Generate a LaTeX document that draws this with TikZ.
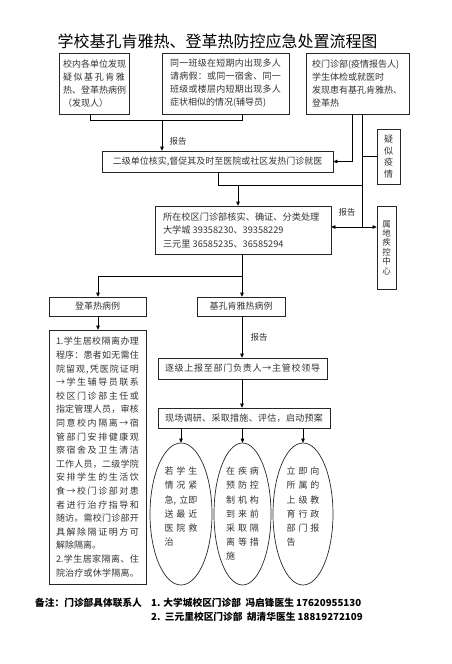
\documentclass[tikz,border=0pt]{standalone}
\usepackage{fontspec}
\setmainfont{Noto Sans CJK SC}
\usetikzlibrary{arrows.meta,shapes.geometric}
\def\jlend{JLEND@}
\newcommand\jl[2]{\leavevmode\hbox to #1{\jlA#2\jlend}}
\def\jlA#1{#1\futurelet\jlnext\jlB}
\def\jlB{\ifx\jlnext\jlend\expandafter\jlgobble\else\hfil\expandafter\jlA\fi}
\def\jlgobble#1{}
\begin{document}
\begin{tikzpicture}[x=1pt,y=-1pt,
  box/.style={draw=black!85, line width=0.7pt, inner sep=0pt, text=black!80, font=\fontsize{9}{13}\selectfont},
  arr/.style={-{Triangle[length=4pt,width=3.6pt]}, line width=0.7pt},
  ln/.style={line width=0.7pt},
  lbl/.style={inner sep=0pt, font=\fontsize{8.5}{10}\selectfont, text=black!80},
  ell/.style={draw=black!85, ellipse, inner sep=0pt, line width=0.7pt, text=black!80, font=\fontsize{9}{14.2}\selectfont},
  foot/.style={anchor=west, inner sep=0pt, font=\bfseries\fontsize{9.7}{11}\selectfont}]
\useasboundingbox (0,0) rectangle (451,664);
\node[inner sep=0pt,font=\fontsize{16}{18}\selectfont] (title) at (217.5,41) {学校基孔肯雅热、登革热防控应急处置流程图};

\node[box, minimum width=70pt, minimum height=61pt] (b1) at (94,83.5)
 {\parbox{62pt}{\jl{62pt}{校内各单位发现}\\\jl{62pt}{疑似基孔肯雅}\\\jl{62pt}{热、登革热病例}\\（发现人）}};
\node[box, minimum width=127pt, minimum height=61pt] (b2) at (225.5,83.5)
 {\parbox{111pt}{\jl{111pt}{同一班级在短期内出现多人}\\\jl{111pt}{请病假：或同一宿舍、同一}\\\jl{111pt}{班级或楼层内短期出现多人}\\症状相似的情况(辅导员)}};
\node[box, minimum width=103pt, minimum height=61pt] (b3) at (357.5,83.5)
 {\parbox{91pt}{校门诊部(疫情报告人)\\学生体检或就医时\\发现患有基孔肯雅热、\\登革热}};

\node[box, minimum width=231pt, minimum height=21pt] (erji) at (217.5,161.5) {二级单位核实,督促其及时至医院或社区发热门诊就医};
\node[box, minimum width=23pt, minimum height=55pt, font=\fontsize{9}{11.7}\selectfont, align=center] (yisi) at (388.5,156.5) {疑\\似\\疫\\情};

\node[box, minimum width=176pt, minimum height=48pt, font=\fontsize{9.2}{13.5}\selectfont] (suozai) at (243,230)
 {\parbox{160pt}{所在校区门诊部核实、确证、分类处理\\大学城 39358230、39358229\\三元里 36585235、36585294}};
\node[box, minimum width=19pt, minimum height=83pt, font=\fontsize{8.5}{9.4}\selectfont, align=center] (shudi) at (386.5,247.5) {属\\地\\疾\\控\\中\\心};

\node[box, minimum width=97pt, minimum height=19pt] (dengge) at (97.5,306.5) {登革热病例};
\node[box, minimum width=88pt, minimum height=19pt] (jikong) at (241,306.5) {基孔肯雅热病例};

\node[box, minimum width=97pt, minimum height=254pt, font=\fontsize{9}{13.6}\selectfont] (detail) at (97.5,457)
 {\parbox{83pt}{\jl{83pt}{{1.}学生居校隔离办理}\\\jl{83pt}{程序：患者如无需住}\\\jl{83pt}{院留观,凭医院证明}\\\jl{83pt}{→学生辅导员联系}\\\jl{83pt}{校区门诊部主任或}\\\jl{83pt}{指定管理人员，审核}\\\jl{83pt}{同意校内隔离→宿}\\\jl{83pt}{管部门安排健康观}\\\jl{83pt}{察宿舍及卫生清洁}\\\jl{83pt}{工作人员，二级学院}\\\jl{83pt}{安排学生的生活饮}\\\jl{83pt}{食→校门诊部对患}\\\jl{83pt}{者进行治疗指导和}\\\jl{83pt}{随访。需校门诊部开}\\\jl{83pt}{具解除隔证明方可}\\解除隔离。\\\jl{83pt}{{2.}学生居家隔离、住}\\\jl{83pt}{院治疗或休学隔离。}}};

\node[box, minimum width=169pt, minimum height=21pt] (zhuji) at (242.5,368.5) {\jl{155pt}{逐级上报至部门负责人→主管校领导}};
\node[box, minimum width=172pt, minimum height=20pt] (xianchang) at (244,418) {\jl{158pt}{现场调研、采取措施、评估，启动预案}};

\node[ell, minimum width=62pt, minimum height=142pt] (e1) at (181,514)
 {\parbox[c][94pt][t]{33pt}{\jl{33pt}{若学生}\\\jl{33pt}{情况紧}\\\jl{33pt}{{急,}{立即}}\\\jl{33pt}{送最近}\\\jl{33pt}{医院救}\\治}};
\node[ell, minimum width=57pt, minimum height=142pt] (e2) at (242.5,514)
 {\parbox[c][94pt][t]{33pt}{\jl{33pt}{在疾病}\\\jl{33pt}{预防控}\\\jl{33pt}{制机构}\\\jl{33pt}{到来前}\\\jl{33pt}{采取隔}\\\jl{33pt}{离等措}\\施}};
\node[ell, minimum width=60pt, minimum height=142pt] (e3) at (303,514)
 {\parbox[c][94pt][t]{33pt}{\jl{33pt}{立即向}\\\jl{33pt}{所属的}\\\jl{33pt}{上级教}\\\jl{33pt}{育行政}\\\jl{33pt}{部门报}\\告}};

\node[foot] (note) at (35,603) {备注：门诊部具体联系人};
\node[foot] (c1) at (151,603) {1. 大学城校区门诊部\ \ 冯启锋医生 17620955130};
\node[foot] (c2) at (151,617) {2.\ \ 三元里校区门诊部\ \ 胡清华医生 18819272109};

% connectors
\coordinate (jA) at (90,120);
\coordinate (jB) at (242,120);
\coordinate (jC) at (162,120);
\draw[ln] (jA |- b1.south) -- (jA) -- (jB) -- (jB |- b2.south);
\draw[arr] (jC) -- (jC |- erji.north);
\node[lbl] (r1) at (178,141) {报告};

\coordinate (kA) at (352,161.5);
\draw[arr] (kA |- b3.south) -- (kA) -- (erji.east);
\coordinate (kB) at (362,227);
\draw[ln] (kB |- b3.south) -- (kB);
\draw[ln] (kB |- yisi.west) -- (yisi.west);
\coordinate (kC) at (218,185);
\coordinate (kD) at (238,185);
\draw[ln] (kC |- erji.south) -- (kC) -- (kC -| kB);
\draw[arr] (kD) -- (kD |- suozai.north);
\draw[arr] (kB) -- (kB -| suozai.east);
\draw[arr] (kB) -- (kB -| shudi.west);
\node[lbl] (r2) at (347,212) {报告};

\coordinate (mA) at (242,276);
\coordinate (mB) at (98,276);
\draw[arr] (mA |- suozai.south) -- (mA |- jikong.north);
\draw[arr] (mA) -- (mB) -- (mB |- dengge.north);
\draw[arr] (mB |- dengge.south) -- (mB |- detail.north);
\draw[arr] (mA |- jikong.south) -- (mA |- zhuji.north);
\node[lbl] (r3) at (259,337) {报告};
\draw[arr] (mA |- zhuji.south) -- (mA |- xianchang.north);
\draw[arr] (e1.north |- xianchang.south) -- (e1.north);
\draw[arr] (e2.north |- xianchang.south) -- (e2.north);
\draw[arr] (e3.north |- xianchang.south) -- (e3.north);
\end{tikzpicture}
\end{document}
